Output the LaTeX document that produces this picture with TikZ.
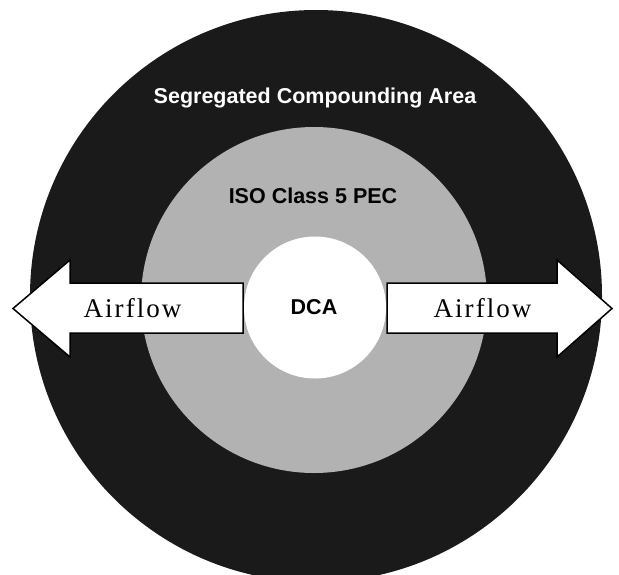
\documentclass[tikz,border=0pt]{standalone}
\usepackage{fontspec}
\setsansfont{Liberation Sans}
\newfontfamily\flowfont[LetterSpace=7.5]{Liberation Serif}
\usetikzlibrary{positioning}
\definecolor{cOuter}{HTML}{1A1A1A}
\definecolor{cPec}{HTML}{B2B2B2}

\begin{document}
\begin{tikzpicture}[
  x=1pt, y=-1pt,
  zone/.style={circle, inner sep=0pt, draw=none},
  tag/.style={inner sep=0pt, anchor=base, font=\sffamily\bfseries\fontsize{21.5}{24}\selectfont},
  flowtext/.style={inner sep=0pt, anchor=base, font=\flowfont\fontsize{27}{30}\selectfont},
  flowarrow/.style={fill=white, draw=black, line width=1.5pt, line join=miter},
]
\useasboundingbox (0,0) rectangle (619,574);

% nested zones
\node[zone, fill=cOuter, minimum size=572pt] (sca) at (316,296) {};
\node[zone, fill=cPec, minimum size=346pt] (pec) at (314,300) {};
\node[zone, fill=white, minimum size=142pt] (dca) at (315,307.5) {};

% zone labels
\node[tag, text=white] (scatext) at (315,103) {Segregated Compounding Area};
\node[tag, text=black] (pectext) at (313,203) {ISO Class 5 PEC};
\node[tag, text=black] (dcatext) at (314,314) {DCA};

% airflow arrows out of the DCA
\draw[flowarrow] (243,283) -- (70,283) -- (70,260) -- (13,308.5) -- (70,357)
  -- (70,333) -- (243,333) -- cycle;
\draw[flowarrow] (387,283) -- (557,283) -- (557,260) -- (612,308.5) -- (557,357)
  -- (557,333) -- (387,333) -- cycle;
\node[flowtext] (flowleft) at (132.5,317) {Airflow};
\node[flowtext] (flowright) at (482.5,317) {Airflow};

\end{tikzpicture}
\end{document}
